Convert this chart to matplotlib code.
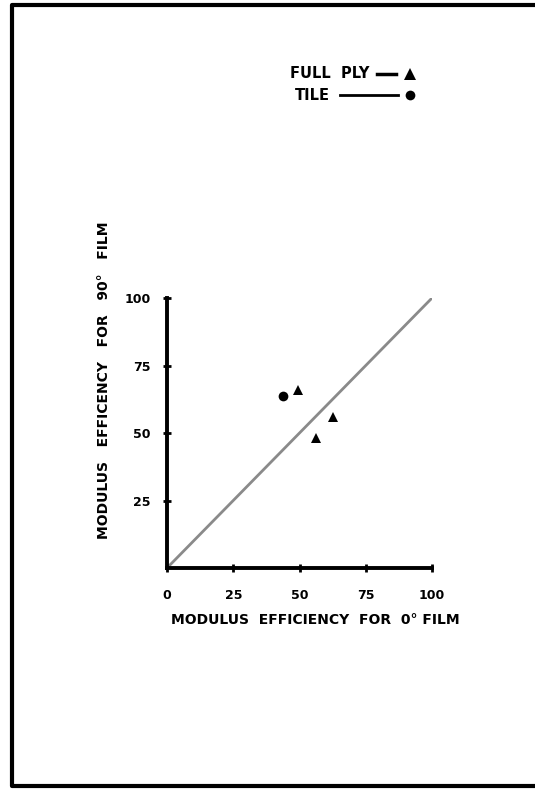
import matplotlib.pyplot as plt
from matplotlib.lines import Line2D

# data
full_ply_x = [49.4, 62.6, 56.2]
full_ply_y = [65.9, 55.9, 48.1]
tile_x = [43.8]
tile_y = [63.7]
line_x = [0, 100]
line_y = [0, 100]
ticks = [25, 50, 75, 100]
x_tick_labels = ["25", "50", "75", "100"]

W, H = 535, 789

fig = plt.figure(figsize=(W / 100, H / 100), dpi=100)
ax = fig.add_axes([167 / W, 1 - 568 / H, (432 - 167) / W, (568 - 298) / H])

ax.plot(line_x, line_y, color="#8a8a8a", lw=2, solid_capstyle="butt")
ax.plot(full_ply_x, full_ply_y, "^", color="black", ms=7, mew=0)
ax.plot(tile_x, tile_y, "o", color="black", ms=7, mew=0)

ax.set_xlim(0, 100)
ax.set_ylim(0, 100)
for s in ["top", "right"]:
    ax.spines[s].set_visible(False)
for s in ["left", "bottom"]:
    ax.spines[s].set_linewidth(2.8)
    ax.spines[s].set_color("black")

ax.set_xticks([0] + ticks)
ax.set_xticklabels(["0"] + x_tick_labels, fontsize=9, fontweight="bold")
ax.set_yticks(ticks)
ax.set_yticklabels(x_tick_labels, fontsize=9, fontweight="bold")
ax.tick_params(axis="x", direction="inout", length=6, width=2, pad=12)
ax.tick_params(axis="y", direction="inout", length=6, width=2, pad=9)

fig.text(315 / W, 1 - 620 / H, "MODULUS  EFFICIENCY  FOR  0\u00b0 FILM",
         ha="center", va="center", fontsize=10, fontweight="bold")
fig.text(104 / W, 1 - 380 / H, "MODULUS   EFFICENCY   FOR   90\u00b0   FILM",
         ha="center", va="center", rotation=90, fontsize=10, fontweight="bold")

# legend drawn by hand like the original sketch
fig.text(290 / W, 1 - 74 / H, "FULL  PLY", ha="left", va="center",
         fontsize=10.5, fontweight="bold")
fig.add_artist(Line2D([377 / W, 396 / W], [1 - 74 / H, 1 - 74 / H],
                      color="black", lw=2.5, transform=fig.transFigure))
fig.add_artist(Line2D([410 / W], [1 - 74 / H], marker="^", ms=8, mew=0,
                      color="black", transform=fig.transFigure))
fig.text(295 / W, 1 - 95 / H, "TILE", ha="left", va="center",
         fontsize=10.5, fontweight="bold")
fig.add_artist(Line2D([340 / W, 398 / W], [1 - 95 / H, 1 - 95 / H],
                      color="black", lw=2, transform=fig.transFigure))
fig.add_artist(Line2D([410 / W], [1 - 95 / H], marker="o", ms=7, mew=0,
                      color="black", transform=fig.transFigure))

# page frame (left, top, bottom)
fx0, fy_top, fy_bot = 12 / W, 1 - 5 / H, 1 - 786 / H
fig.add_artist(Line2D([1, fx0, fx0, 1], [fy_top, fy_top, fy_bot, fy_bot],
                      color="black", lw=3, transform=fig.transFigure))

plt.savefig("out.png", dpi=100)
